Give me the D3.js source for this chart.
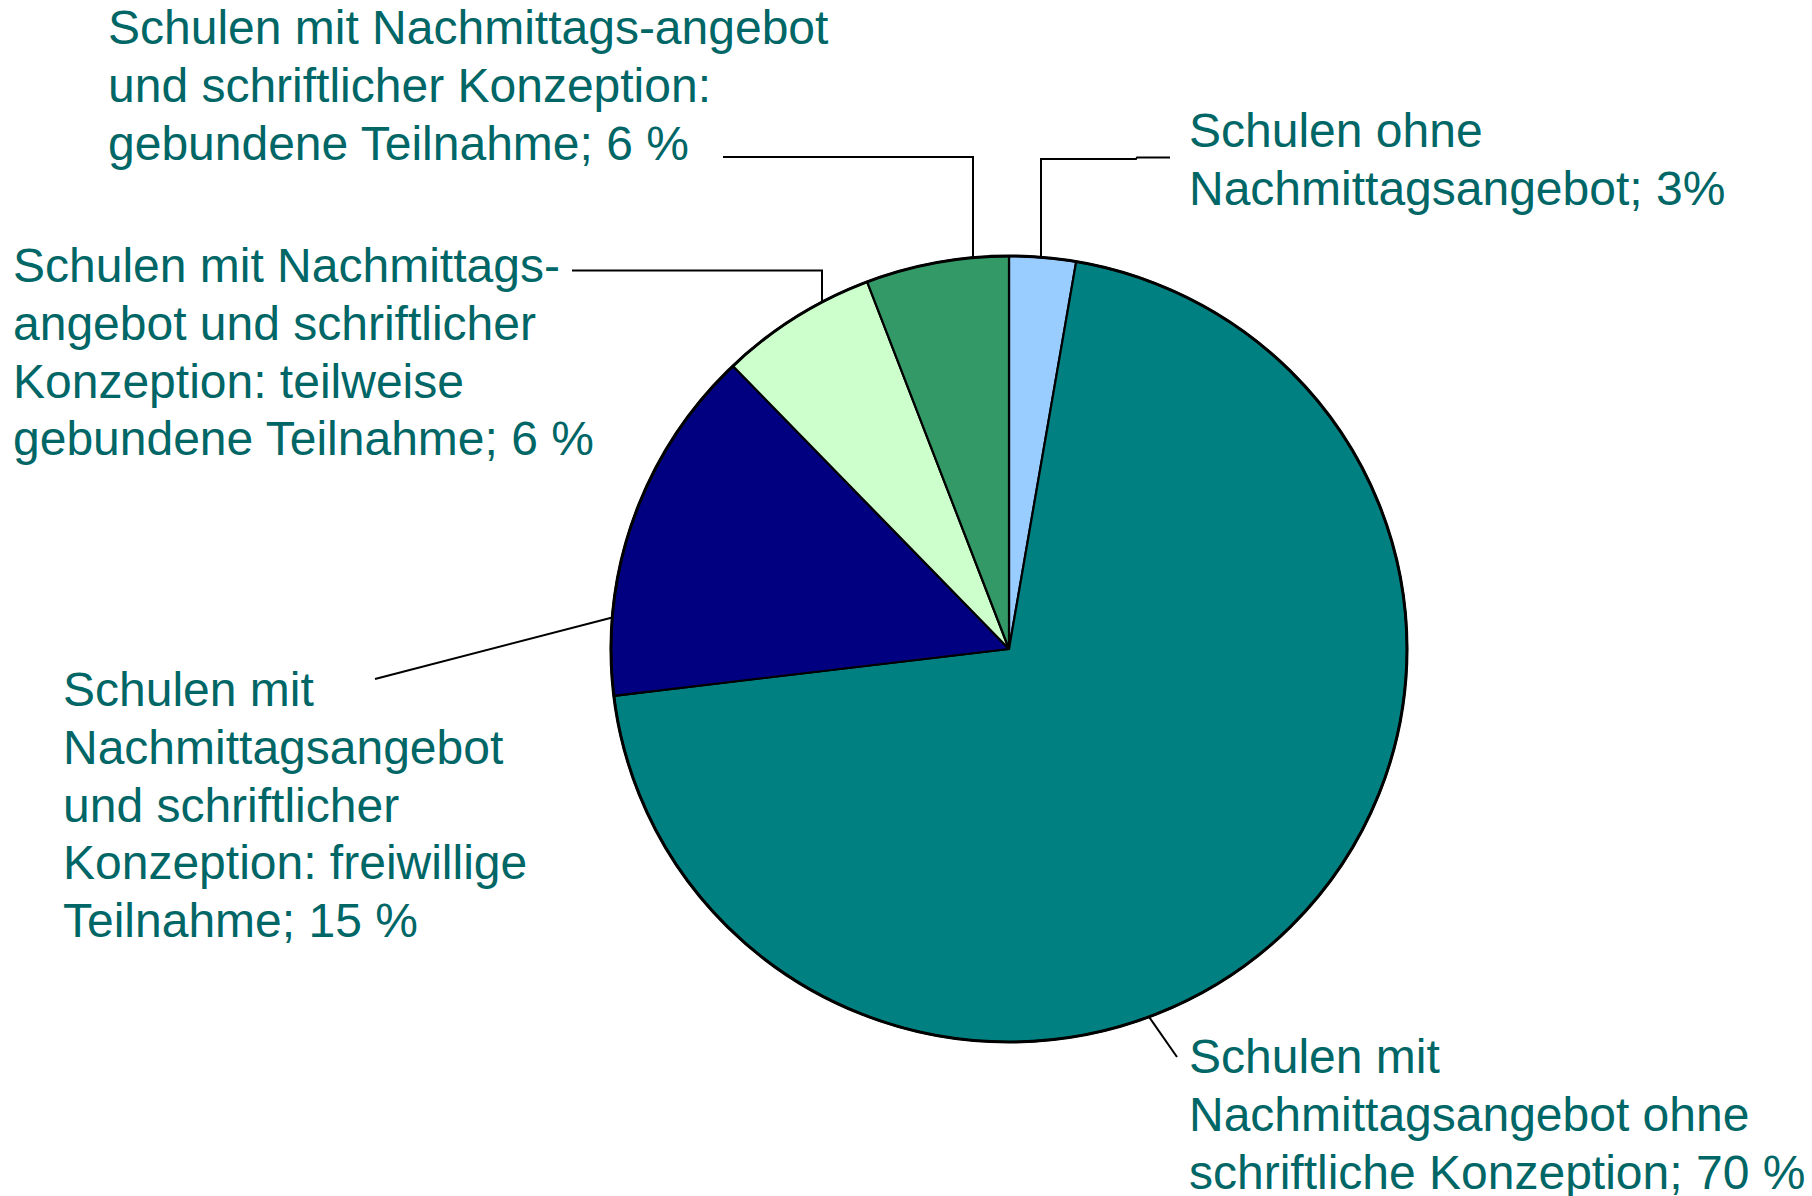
<!DOCTYPE html>
<html>
<head>
<meta charset="utf-8">
<script src="https://cdn.jsdelivr.net/npm/d3@7"></script>
<style>
  html, body { margin: 0; padding: 0; background: #fff; }
  svg { display: block; }
</style>
</head>
<body>
<svg id="chart"></svg>
<script>
// data, clockwise from 12 o'clock (shares)
const categories = [
    "ohne Nachmittagsangebot",
    "Nachmittagsangebot ohne Konzeption",
    "freiwillige Teilnahme",
    "teilweise gebundene Teilnahme",
    "gebundene Teilnahme"
];
const values = [2.7, 70.4, 14.7, 6.4, 5.8];
const labelLines = [
    ["Schulen ohne", "Nachmittagsangebot; 3%"],
    ["Schulen mit", "Nachmittagsangebot ohne", "schriftliche Konzeption; 70 %"],
    ["Schulen mit", "Nachmittagsangebot", "und schriftlicher", "Konzeption: freiwillige", "Teilnahme; 15 %"],
    ["Schulen mit Nachmittags-", "angebot und schriftlicher", "Konzeption: teilweise", "gebundene Teilnahme; 6 %"],
    ["Schulen mit Nachmittags-angebot", "und schriftlicher Konzeption:", "gebundene Teilnahme; 6 %"]
];
const colors = ["#99ccff", "#008080", "#000080", "#ccffcc", "#339966"];

const size = {width: 1812, height: 1196};
const cx = 1009, cy = 649, radius = 395;
const sx = 398 / radius, sy = 393 / radius;   // pie is a touch wider than tall
const textColor = "#006666";
const fontSize = 48, lineHeight = 57.8;

// label placement (x of text, baseline of first line)
const labelPos = [
    {x: 1189, y: 147},
    {x: 1189, y: 1073},
    {x: 63, y: 706},
    {x: 13, y: 282},
    {x: 108, y: 44}
];

const svg = d3.select("#chart")
    .attr("width", size.width)
    .attr("height", size.height);

const pie = d3.pie().sort(null).value(d => d);
const arcs = pie(values);
const arc = d3.arc().innerRadius(0).outerRadius(radius);

const g = svg.append("g")
    .attr("transform", "translate(" + cx + "," + cy + ") scale(" + sx + "," + sy + ")");

g.selectAll("path.slice")
    .data(arcs)
    .enter().append("path")
    .attr("class", "slice")
    .attr("d", arc)
    .attr("fill", (d, i) => colors[i])
    .attr("stroke", "#000")
    .attr("stroke-width", 2.2)
    .attr("stroke-linejoin", "round");

// heavier outer rim
g.append("circle")
    .attr("r", radius)
    .attr("fill", "none")
    .attr("stroke", "#000")
    .attr("stroke-width", 3);

// point on the rim for a given x (upper half) or angle in degrees
function rimAtX(x) {
    const dx = (x - cx) / sx;
    return [x, cy - sy * Math.sqrt(radius * radius - dx * dx)];
}
function rimAtAngle(deg) {
    const a = deg * Math.PI / 180;
    return [cx + sx * radius * Math.sin(a), cy - sy * radius * Math.cos(a)];
}

// leader lines
const leaders = [
    [rimAtX(1041), [1041, 159], [1136, 159], [1137, 157.5], [1170, 157.5]],
    [rimAtAngle(159.4), [1177, 1057]],
    [rimAtAngle(274.6), [375, 679]],
    [rimAtX(822), [822, 270.5], [572, 270.5]],
    [rimAtX(973), [973, 157], [723, 157]]
];

svg.append("g")
    .selectAll("path")
    .data(leaders)
    .enter().append("path")
    .attr("d", d3.line())
    .attr("fill", "none")
    .attr("stroke", "#000")
    .attr("stroke-width", 2);

// labels
const labels = svg.append("g")
    .selectAll("text")
    .data(labelLines)
    .enter().append("text")
    .attr("x", (d, i) => labelPos[i].x)
    .attr("y", (d, i) => labelPos[i].y)
    .attr("fill", textColor)
    .style("font-family", "'Liberation Sans', Arial, sans-serif")
    .style("font-size", fontSize + "px");

labels.selectAll("tspan")
    .data((d, i) => d.map(line => ({line: line, x: labelPos[i].x})))
    .enter().append("tspan")
    .attr("x", d => d.x)
    .attr("dy", (d, j) => j === 0 ? 0 : lineHeight)
    .text(d => d.line);
</script>
</body>
</html>
